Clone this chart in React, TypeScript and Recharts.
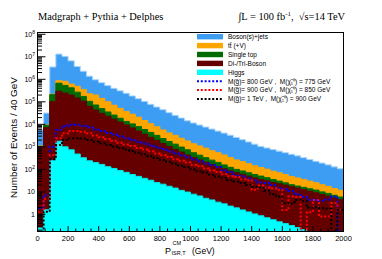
import React from 'react';
import { ComposedChart, Area, Line, XAxis, YAxis } from 'recharts';

const binLow = [0, 40, 80, 120, 160, 200, 240, 280, 320, 360, 400, 440, 480, 520, 560, 600, 640, 680, 720, 760, 800, 840, 880, 920, 960, 1000, 1040, 1080, 1120, 1160, 1200, 1240, 1280, 1320, 1360, 1400, 1440, 1480, 1520, 1560, 1600, 1640, 1680, 1720, 1760, 1800, 1840, 1880, 1920, 1960];
const xEnd = 2000;

const higgs = [0.25, 1.6, 250, 1780, 1000, 740, 480, 330, 240, 200, 166, 132, 110, 89, 74, 59, 49, 40, 33, 26, 22, 17.8, 14.8, 11.7, 9.8, 7.9, 6.6, 5.2, 4.4, 3.5, 2.95, 2.34, 1.95, 1.58, 1.29, 1.05, 0.87, 0.71, 0.58, 0.47, 0.39, 0.32, 0.26, 0.21, 0, 0, 0, 0, 0, 0];
const diboson = [1000, 7080, 104000, 293000, 244500, 198800, 147400, 106900, 62900, 43400, 30700, 22800, 16900, 12500, 9260, 6860, 4960, 3590, 2600, 1920, 1390, 1030, 761, 577, 427, 323, 256, 204, 162, 131, 104, 82.8, 68.9, 58.7, 48.8, 40.6, 34.6, 30.2, 25.7, 22.4, 19.6, 16.7, 14.5, 12.4, 10.7, 9.1, 7.6, 6.5, 5.4, 4.5];
const singleTop = [47, 1830, 104000, 381000, 291500, 217500, 121300, 66600, 41600, 28800, 19200, 12600, 8740, 6040, 4150, 3560, 2930, 2260, 1740, 1290, 931, 691, 542, 389, 305, 218, 164, 122, 91, 69, 51, 37.9, 29.2, 24.9, 20.7, 17.2, 14.7, 11.7, 9.2, 7.3, 5.2, 3.9, 3.4, 3.3, 3.1, 2.9, 2.4, 2.05, 1.7, 1.42];
const ttbar = [49, 420, 9900, 195000, 276000, 199600, 220600, 172900, 124300, 127100, 91100, 64500, 45100, 32700, 23600, 17700, 12900, 8900, 6360, 4530, 3280, 2430, 1920, 1420, 1080, 830, 670, 540, 419, 345, 277, 208, 163, 134, 107, 85.7, 70.2, 59.6, 47.7, 40.6, 33.9, 27.0, 23.5, 19.7, 16.4, 13.7, 10.9, 8.9, 7.0, 5.9];
const bosonJets = [4500, 22300, 3330000, 12300000, 9660000, 5990000, 3225000, 1944000, 1151000, 755500, 567000, 425000, 327000, 258000, 203000, 154000, 117000, 89900, 66900, 51100, 39100, 28900, 21900, 16700, 12600, 10100, 8230, 6720, 5490, 4460, 3640, 2980, 2370, 1870, 1480, 1173, 927, 789, 676, 575, 491, 420, 356, 295, 245, 203, 170, 141, 115, 95];

const sig800 = [1.9, 7.1, 1000, 5620, 8320, 9330, 9550, 8510, 7410, 5750, 5010, 4170, 3550, 2880, 2400, 2000, 1660, 1410, 1150, 955, 794, 631, 525, 417, 347, 275, 229, 182, 151, 126, 91, 76, 52, 50, 40, 33, 26, 25, 20, 15, 13, 11, 7.9, 6.0, 4.5, 4.4, 4.0, 4.6, 6.3, 0];
const sig900 = [1.26, 5.0, 437, 2400, 3980, 5010, 5010, 4680, 3980, 3160, 2690, 2240, 1860, 1510, 1260, 1100, 891, 759, 631, 513, 427, 355, 282, 240, 200, 158, 138, 110, 89, 76, 60, 50, 46, 36, 33, 12.6, 19, 15.8, 14.1, 12.6, 1.55, 6.3, 6.0, 0, 1.26, 4.4, 0.8, 0.8, 3.2, 1.6];
const sig1000 = [0, 1.3, 282, 1200, 2000, 2400, 2400, 2290, 2000, 1700, 1450, 1200, 1020, 871, 759, 661, 550, 457, 380, 316, 263, 219, 178, 145, 126, 100, 83, 72, 58, 48, 42, 33, 29, 25, 20, 16.6, 15.1, 11.2, 7.9, 6.3, 3.2, 3.0, 4.4, 3.8, 2.0, 2.1, 1.9, 1.8, 0, 1.6];

const xTicks = [0, 50, 100, 150, 200, 250, 300, 350, 400, 450, 500, 550, 600, 650, 700, 750, 800, 850, 900, 950, 1000, 1050, 1100, 1150, 1200, 1250, 1300, 1350, 1400, 1450, 1500, 1550, 1600, 1650, 1700, 1750, 1800, 1850, 1900, 1950, 2000];
const xLabelStep = 200;
const yMajor = [1, 10, 100, 1e3, 1e4, 1e5, 1e6, 1e7, 1e8];
const yMinorMult = [2, 3, 4, 5, 6, 7, 8, 9];

const YMIN = 0.174;
const YMAX = 1.2e8;

const legendItems = [
  { label: 'Boson(s)+jets', color: '#3d9df2', kind: 'box' },
  { label: 'tt\u0304 (+V)', color: '#ffa500', kind: 'box' },
  { label: 'Single top', color: '#006b00', kind: 'box' },
  { label: 'Di-/Tri-Boson', color: '#640000', kind: 'box' },
  { label: 'Higgs', color: '#00ffff', kind: 'box' },
  { label: 'M(g\u0303)= 800 GeV ,  M(\u03c7\u0303\u2081\u2070) = 775 GeV', color: '#0000ff', kind: 'line' },
  { label: 'M(g\u0303)= 900 GeV ,  M(\u03c7\u0303\u2081\u2070) = 850 GeV', color: '#ff0000', kind: 'line' },
  { label: 'M(g\u0303)= 1 TeV ,  M(\u03c7\u0303\u2081\u2070) = 900 GeV', color: '#000000', kind: 'line' },
];

const pos = (v: number) => (v > 0 ? v : YMIN);

const table = (() => {
  const rows: any[] = [];
  const n = binLow.length;
  for (let i = 0; i <= n; i++) {
    const k = Math.min(i, n - 1);
    const c1 = higgs[k];
    const c2 = c1 + diboson[k];
    const c3 = c2 + singleTop[k];
    const c4 = c3 + ttbar[k];
    const c5 = c4 + bosonJets[k];
    rows.push({
      x: i < n ? binLow[i] : xEnd,
      higgs: pos(c1),
      dib: pos(c2),
      st: pos(c3),
      tt: pos(c4),
      bj: pos(c5),
      s800: pos(sig800[k]),
      s900: pos(sig900[k]),
      s1000: pos(sig1000[k]),
    });
  }
  return rows;
})();

const yTicks = (() => {
  const t: number[] = [];
  [0.1, ...yMajor].forEach((d) => {
    if (d >= YMIN && d <= YMAX) t.push(d);
    yMinorMult.forEach((m) => {
      const v = d * m;
      if (v >= YMIN && v <= YMAX) t.push(v);
    });
  });
  return t.sort((a, b) => a - b);
})();

const SANS = '"Liberation Sans", Arial, Helvetica, sans-serif';
const SERIF = '"Liberation Serif", "Times New Roman", serif';

const XTick = (props: any) => {
  const { x, y, payload } = props;
  const v = payload.value;
  const major = v % xLabelStep === 0;
  return (
    <g>
      <line x1={x} x2={x} y1={y} y2={y - (major ? 5.5 : 3)} stroke="#000" strokeWidth={1} />
      {major && (
        <text x={x} y={y + 9.5} textAnchor="middle" fontSize={7.5} fontFamily={SANS} fill="#000">
          {v}
        </text>
      )}
    </g>
  );
};

const YTick = (props: any) => {
  const { x, y, payload } = props;
  const v = payload.value;
  const e = Math.round(Math.log10(v));
  const major = yMajor.some((m) => Math.abs(m - v) < 1e-6 * m);
  return (
    <g>
      <line x1={x} x2={x + (major ? 8 : 4.5)} y1={y} y2={y} stroke="#000" strokeWidth={1} />
      {major && (
        <text x={x - 2.5} y={y + 2.5} textAnchor="end" fontSize={7} fontFamily={SANS} fill="#000">
          {e === 0 ? '1' : e === 1 ? '10' : (
            <>
              <tspan>10</tspan>
              <tspan dy={-3} fontSize={5}>{e}</tspan>
            </>
          )}
        </text>
      )}
    </g>
  );
};

const M = { top: 32.5, right: 38.5, bottom: 0, left: 0 };
const W = 382;
const H = 259;
const YW = 37.5;
const XH = 27.5;

export default function App() {
  const plotL = M.left + YW;
  const plotR = W - M.right;
  const plotT = M.top;
  const plotB = H - M.bottom - XH;
  return (
    <div style={{ position: 'absolute', left: 0, top: 0, width: W, height: H, background: '#fff' }}>
      <ComposedChart width={W} height={H} data={table} margin={M}>
        <Area dataKey="bj" type="stepAfter" fill="#3d9df2" fillOpacity={1} stroke="#a8d4ff" strokeWidth={1} baseValue={YMIN} isAnimationActive={false} />
        <Area dataKey="tt" type="stepAfter" fill="#ffa500" fillOpacity={1} stroke="#ffa500" strokeWidth={1} baseValue={YMIN} isAnimationActive={false} />
        <Area dataKey="st" type="stepAfter" fill="#006b00" fillOpacity={1} stroke="#006b00" strokeWidth={1} baseValue={YMIN} isAnimationActive={false} />
        <Area dataKey="dib" type="stepAfter" fill="#640000" fillOpacity={1} stroke="#640000" strokeWidth={1} baseValue={YMIN} isAnimationActive={false} />
        <Area dataKey="higgs" type="stepAfter" fill="#00ffff" fillOpacity={1} stroke="#00e8e8" strokeWidth={1} baseValue={YMIN} isAnimationActive={false} />
        <Line dataKey="s800" type="stepAfter" stroke="#0000ff" strokeWidth={2} strokeDasharray="2 2" dot={false} isAnimationActive={false} />
        <Line dataKey="s900" type="stepAfter" stroke="#ff0000" strokeWidth={2} strokeDasharray="2 2" dot={false} isAnimationActive={false} />
        <Line dataKey="s1000" type="stepAfter" stroke="#000000" strokeWidth={2} strokeDasharray="2 2" dot={false} isAnimationActive={false} />
        <XAxis
          dataKey="x"
          type="number"
          domain={[0, xEnd]}
          ticks={xTicks}
          interval={0}
          allowDataOverflow
          tickLine={false}
          tickSize={0}
          tickMargin={0}
          height={XH}
          axisLine={{ stroke: '#000' }}
          tick={(p: any) => <XTick {...p} />}
        />
        <YAxis
          type="number"
          scale="log"
          domain={[YMIN, YMAX]}
          ticks={yTicks}
          interval={0}
          allowDataOverflow
          tickLine={false}
          tickSize={0}
          tickMargin={0}
          width={YW}
          axisLine={{ stroke: '#000' }}
          tick={(p: any) => <YTick {...p} />}
        />
      </ComposedChart>
      <svg width={W} height={H} style={{ position: 'absolute', left: 0, top: 0, pointerEvents: 'none' }}>
        <rect x={plotL} y={plotT} width={plotR - plotL} height={plotB - plotT} fill="none" stroke="#000" strokeWidth={1} />
        <text x={38} y={20} fontSize={10.4} fontFamily={SERIF} fill="#000">Madgraph + Pythia + Delphes</text>
        <text x={345} y={20} fontSize={10.4} fontFamily={SERIF} fill="#000" textAnchor="end" style={{ whiteSpace: 'pre' }}>
          <tspan>{'\u222BL = 100 fb'}</tspan>
          <tspan dy={-4} fontSize={7}>-1</tspan>
          <tspan dy={4}>{',  \u221As=14 TeV'}</tspan>
        </text>
        <text x={17} y={137.5} fontSize={9.9} fontFamily={SANS} fill="#000" textAnchor="middle" transform="rotate(-90 17 137.5)">
          Number of Events / 40 GeV
        </text>
        <text x={165} y={253.5} fontSize={9} fontFamily={SANS} fill="#000">
          <tspan>P</tspan>
          <tspan x={172.5} y={245} fontSize={5.5}>CM</tspan>
          <tspan x={171.5} y={254.5} fontSize={5.5}>ISR,T</tspan>
          <tspan x={192} y={253.5} fontSize={8.5}>(GeV)</tspan>
        </text>
        {legendItems.map((it, i) => {
          const cy = 36.7 + i * 8.9;
          return (
            <g key={it.label}>
              {it.kind === 'box' ? (
                <rect x={197} y={cy - 2.7} width={26} height={5.4} fill={it.color} />
              ) : (
                <line x1={197} x2={223} y1={cy} y2={cy} stroke={it.color} strokeWidth={2} strokeDasharray="2 1.8" />
              )}
              <text x={228} y={cy + 2.3} fontSize={6.5} fontFamily={SANS} fill="#000" style={{ whiteSpace: 'pre' }}>
                {it.label}
              </text>
            </g>
          );
        })}
      </svg>
    </div>
  );
}
